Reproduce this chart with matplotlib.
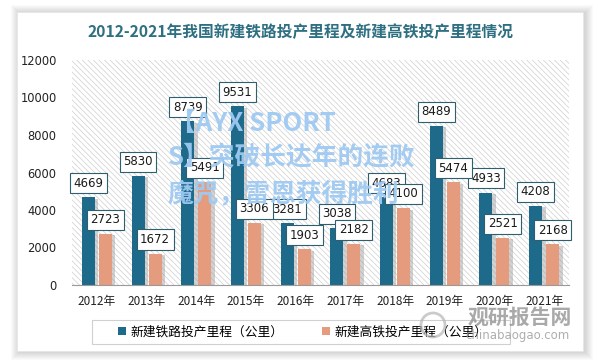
import matplotlib
matplotlib.use("Agg")
import matplotlib.pyplot as plt
import matplotlib.patches as mpatches
import matplotlib.patheffects as pe
import numpy as np

plt.rcParams['font.family'] = ['Noto Sans CJK SC', 'DejaVu Sans']
plt.rcParams['hatch.linewidth'] = 0.5
plt.rcParams['hatch.color'] = '#cfcfcf'

years = ['2012年', '2013年', '2014年', '2015年', '2016年', '2017年', '2018年', '2019年', '2020年', '2021年']
railway = [4669, 5830, 8739, 9531, 3281, 3038, 4683, 8489, 4933, 4208]
hsr = [2723, 1672, 5491, 3306, 1903, 2182, 4100, 5474, 2521, 2168]
series_names = ['新建铁路投产里程（公里）', '新建高铁投产里程（公里）']
title = '2012-2021年我国新建铁路投产里程及新建高铁投产里程情况'
yticks = [0, 2000, 4000, 6000, 8000, 10000, 12000]

W, H = 595, 361
fig = plt.figure(figsize=(W / 100, H / 100), dpi=100)
fig.patch.set_facecolor('white')

# card shadow + card
cx0, cy0, cx1, cy1 = 17, 12, 583, 351
for i in range(8, 0, -1):
    r = mpatches.Rectangle(((cx0 - i + 2) / W, (H - cy1 - i - 1) / H),
                           (cx1 - cx0 + 2 * i) / W, (cy1 - cy0 + 2 * i) / H,
                           transform=fig.transFigure, facecolor='#000000',
                           alpha=0.018, edgecolor='none', zorder=-3)
    fig.patches.append(r)
card = mpatches.Rectangle((cx0 / W, (H - cy1) / H), (cx1 - cx0) / W, (cy1 - cy0) / H,
                          transform=fig.transFigure, facecolor='white',
                          edgecolor='#e6e6e6', lw=0.6, zorder=-2)
fig.patches.append(card)

ax = fig.add_axes([72 / W, (H - 285) / H, (569 - 72) / W, (285 - 60) / H])
ax.set_facecolor('none')
ax.add_patch(mpatches.Rectangle((0, 0), 1, 1, transform=ax.transAxes,
                                facecolor='white', edgecolor='#cfcfcf',
                                hatch='\\\\\\\\\\\\', lw=0, zorder=0))

x = np.arange(len(years))
off, bw = 0.171, 0.26
blue, salmon = '#1e6a8b', '#e59c7e'
shadow = [pe.SimplePatchShadow(offset=(2.5, -1), shadow_rgbFace='#9a9a9a', alpha=0.45), pe.Normal()]
b1 = ax.bar(x - off, railway, bw, color=blue, zorder=2, label=series_names[0])
b2 = ax.bar(x + off, hsr, bw, color=salmon, zorder=2, label=series_names[1])
for b in list(b1) + list(b2):
    b.set_path_effects(shadow)

for xs, vals in ((x - off, railway), (x + off, hsr)):
    for xi, v in zip(xs, vals):
        ax.annotate(f'{v}', (xi, v), xytext=(0, 5.5), textcoords='offset points',
                    ha='center', va='bottom', fontsize=8.5, color='#1a1a1a',
                    family=['DejaVu Sans'],
                    bbox=dict(boxstyle='square,pad=0.3', fc='white', ec='#2f5f6e', lw=0.8),
                    zorder=5)

ax.set_xlim(-0.5, len(years) - 0.5)
ax.set_ylim(0, 12000)
ax.set_yticks(yticks)
ax.set_yticklabels([str(t) for t in yticks], fontsize=8.3, color='#222222', family=['DejaVu Sans'])
ax.set_xticks(x)
ax.set_xticklabels(years, fontsize=8.5, color='#222222')
ax.tick_params(length=0)
ax.tick_params(axis='y', pad=11)
ax.tick_params(axis='x', pad=7)
for s in ['top', 'right', 'left']:
    ax.spines[s].set_visible(False)
ax.spines['bottom'].set_color('#9a9a9a')
ax.spines['bottom'].set_linewidth(0.8)
ax.spines['bottom'].set_zorder(3)

fig.text(301 / W, 1 - 32 / H, title, ha='center', va='center', fontsize=11.3,
         color='#2e6f82', fontweight='bold')

# legend frame drawn to match reference box
legbox = mpatches.Rectangle((92 / W, 1 - 344 / H), (510 - 92) / W, 24 / H,
                            transform=fig.transFigure, facecolor='white',
                            edgecolor='#d0d0d0', lw=0.8, zorder=4)
fig.patches.append(legbox)
leg = fig.legend(handles=[b1, b2], labels=series_names, loc='center',
                 bbox_to_anchor=(303 / W, 1 - 332 / H), ncol=2, frameon=False,
                 fontsize=9.2, handlelength=0.6, handleheight=0.6, handletextpad=0.4,
                 columnspacing=3.0, borderpad=0.3)
leg.set_zorder(5)
for h in leg.legend_handles:
    h.set_path_effects([])

# watermark overlay
wm_color = '#9fcaf2'
fig.text(170 / W, 1 - 123 / H, '【AYX SPORT', fontsize=18.5, color=wm_color, fontweight='bold',
         va='center', ha='left', alpha=0.95, zorder=10)
fig.text(168 / W, 1 - 158 / H, 'S】突破长达年的连败', fontsize=18.5, color=wm_color, fontweight='bold',
         va='center', ha='left', alpha=0.95, zorder=10)
fig.text(168 / W, 1 - 194 / H, '魔咒，雷恩获得胜利', fontsize=18.5, color=wm_color, fontweight='bold',
         va='center', ha='left', alpha=0.95, zorder=10)

# logo
fig.text(520 / W, 1 - 317 / H, '观研报告网', fontsize=15, color='#9a9a9a', fontweight='bold',
         ha='center', va='center', alpha=0.85, zorder=10)
fig.text(518 / W, 1 - 336 / H, 'chinabaogao.com', fontsize=8.5, color='#a0a0a0',
         ha='center', va='center', alpha=0.85, zorder=10, family=['DejaVu Sans'])
logo = mpatches.Ellipse((433 / W, 1 - 325 / H), 24 / W, 24 / H, transform=fig.transFigure,
                        fill=False, ec='#b5b5b5', lw=2.0, alpha=0.7, zorder=10)
fig.patches.append(logo)

fig.savefig('out.png', dpi=100, facecolor=fig.get_facecolor())
